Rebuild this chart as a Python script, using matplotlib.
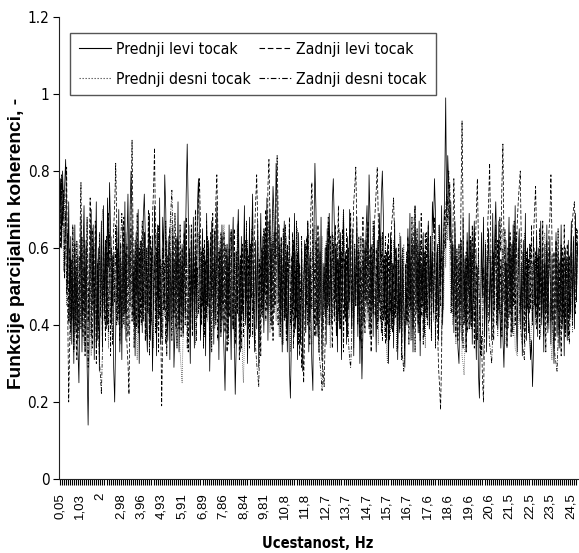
import numpy as np
import matplotlib
matplotlib.use("Agg")
import matplotlib.pyplot as plt
from matplotlib import font_manager
from matplotlib.font_manager import FontProperties
from matplotlib.ticker import FixedLocator, MultipleLocator

# ---------------- data (coherence values in hundredths) ----------------
x_labels = ["0,05", "1,03", "2", "2,98", "3,96", "4,93", "5,91", "6,89", "7,86",
            "8,84", "9,81", "10,8", "11,8", "12,7", "13,7", "14,7", "15,7", "16,7",
            "17,6", "18,6", "19,6", "20,6", "21,5", "22,5", "23,5", "24,5"]
y_ticks = [0, 0.2, 0.4, 0.6, 0.8, 1.0, 1.2]
y_tick_labels = ["0", "0.2", "0.4", "0.6", "0.8", "1", "1.2"]
series_names = ["Prednji levi tocak", "Zadnji levi tocak",
                "Prednji desni tocak", "Zadnji desni tocak"]

prednji_levi = [
    65, 78, 60, 80, 71, 76, 83, 69, 50, 72, 41, 63, 35, 58, 30, 66, 38, 55, 34, 25,
    47, 68, 33, 59, 71, 42, 62, 30, 14, 37, 58, 70, 45, 66, 31, 53, 72, 36, 60, 28,
    52, 67, 35, 71, 44, 62, 39, 73, 55, 77, 64, 40, 58, 29, 20, 38, 65, 46, 70, 33,
    57, 31, 66, 43, 72, 36, 61, 74, 50, 69, 80, 67, 42, 59, 32, 64, 40, 70, 30, 54,
    62, 38, 68, 74, 63, 41, 33, 57, 69, 36, 60, 28, 46, 71, 53, 32, 66, 42, 73, 35,
    47, 68, 58, 79, 70, 44, 36, 63, 31, 59, 41, 66, 29, 38, 62, 48, 72, 33, 57, 40,
    61, 37, 67, 55, 74, 87, 70, 45, 30, 62, 39, 68, 34, 58, 43, 71, 78, 63, 36, 52,
    65, 39, 57, 32, 69, 45, 62, 28, 43, 67, 58, 35, 64, 41, 72, 53, 31, 60, 38, 66,
    42, 33, 23, 40, 61, 37, 66, 47, 31, 58, 68, 39, 22, 35, 60, 70, 51, 33, 63, 43,
    55, 71, 40, 64, 30, 47, 68, 37, 60, 74, 44, 33, 62, 39, 67, 29, 53, 69, 45, 63,
    38, 65, 51, 73, 36, 58, 70, 42, 63, 76, 68, 57, 82, 72, 46, 66, 40, 62, 33, 56,
    67, 42, 59, 33, 52, 29, 21, 37, 61, 45, 69, 39, 57, 31, 64, 43, 35, 60, 28, 50,
    62, 38, 54, 67, 33, 58, 41, 30, 23, 64, 82, 70, 49, 37, 63, 42, 68, 31, 56, 44,
    60, 35, 65, 45, 69, 56, 40, 72, 78, 66, 46, 61, 33, 57, 39, 64, 31, 52, 70, 42,
    59, 35, 63, 44, 70, 53, 39, 65, 32, 60, 45, 68, 37, 56, 30, 43, 26, 38, 62, 47,
    64, 71, 55, 79, 67, 43, 60, 37, 66, 49, 33, 62, 41, 69, 57, 73, 80, 68, 42, 58,
    36, 61, 30, 48, 64, 39, 56, 34, 67, 44, 60, 31, 52, 38, 63, 35, 57, 43, 29, 55,
    40, 65, 46, 69, 36, 60, 33, 54, 71, 43, 62, 38, 67, 32, 56, 47, 64, 37, 59, 44,
    58, 67, 39, 63, 48, 72, 64, 78, 69, 44, 61, 37, 66, 50, 71, 40, 63, 75, 99, 68,
    84, 76, 62, 72, 45, 61, 38, 67, 53, 41, 34, 30, 47, 62, 36, 68, 43, 58, 33, 64,
    48, 69, 40, 62, 35, 56, 67, 43, 31, 55, 28, 21, 39, 64, 47, 68, 37, 60, 33, 54,
    65, 41, 58, 36, 69, 47, 63, 72, 60, 39, 67, 44, 34, 57, 37, 29, 43, 62, 35, 56,
    68, 45, 61, 38, 66, 50, 71, 42, 33, 59, 65, 40, 56, 32, 62, 44, 69, 36, 60, 43,
    39, 31, 36, 24, 34, 57, 42, 64, 37, 60, 46, 67, 40, 56, 33, 61, 43, 66, 38, 55,
    63, 35, 58, 42, 30, 47, 64, 37, 59, 34, 45, 66, 39, 57, 32, 60, 44, 36, 62, 41,
    55, 67, 42, 63, 39, 69, 47, 61,
]

zadnji_levi = [
    73, 60, 79, 66, 75, 52, 70, 81, 44, 20, 35, 57, 41, 66, 37, 61, 47, 31, 58, 40,
    63, 77, 48, 37, 62, 32, 51, 68, 41, 57, 73, 47, 34, 60, 43, 67, 30, 56, 39, 64,
    42, 58, 34, 66, 47, 36, 63, 40, 69, 55, 32, 60, 45, 65, 71, 82, 67, 41, 59, 36,
    61, 39, 53, 68, 43, 59, 35, 30, 22, 46, 70, 88, 64, 40, 62, 48, 69, 38, 60, 42,
    58, 67, 41, 64, 36, 60, 45, 70, 38, 63, 48, 68, 75, 86, 63, 40, 57, 33, 61, 43,
    19, 37, 60, 44, 67, 32, 58, 41, 65, 47, 36, 63, 42, 69, 55, 34, 62, 39, 66, 45,
    60, 38, 64, 43, 68, 48, 33, 59, 42, 66, 37, 63, 46, 70, 50, 65, 72, 78, 66, 40,
    57, 34, 62, 40, 67, 45, 60, 36, 64, 47, 69, 42, 58, 72, 79, 65, 43, 59, 37, 63,
    45, 64, 38, 60, 33, 56, 42, 62, 64, 49, 39, 65, 35, 59, 43, 67, 31, 58, 41, 61,
    37, 63, 44, 67, 40, 58, 34, 61, 47, 69, 43, 64, 72, 79, 66, 39, 57, 32, 60, 42,
    65, 48, 70, 44, 76, 83, 68, 40, 61, 36, 64, 45, 73, 84, 69, 49, 41, 63, 35, 60,
    42, 66, 38, 61, 49, 68, 46, 39, 64, 34, 59, 41, 67, 37, 60, 32, 45, 29, 37, 25,
    39, 61, 45, 67, 58, 42, 70, 77, 63, 47, 37, 62, 40, 66, 33, 59, 43, 31, 28, 24,
    36, 60, 44, 68, 40, 63, 47, 34, 61, 42, 66, 38, 58, 71, 45, 62, 39, 65, 33, 57,
    41, 65, 37, 60, 46, 69, 43, 61, 72, 76, 81, 66, 44, 59, 36, 63, 40, 68, 46, 38,
    62, 45, 67, 39, 60, 33, 57, 43, 65, 70, 75, 81, 68, 46, 61, 38, 64, 41, 58, 35,
    59, 40, 64, 36, 57, 66, 69, 73, 62, 42, 58, 34, 61, 39, 55, 31, 60, 44, 37, 56,
    41, 63, 35, 58, 44, 68, 39, 61, 33, 56, 65, 40, 59, 36, 69, 45, 60, 38, 64, 42,
    57, 66, 40, 61, 36, 59, 44, 68, 34, 56, 39, 29, 24, 18, 32, 55, 63, 70, 60, 74,
    71, 80, 67, 60, 43, 64, 78, 65, 42, 58, 36, 61, 45, 73, 93, 69, 40, 57, 33, 62,
    45, 39, 63, 41, 66, 58, 34, 60, 69, 78, 62, 43, 32, 37, 26, 20, 38, 61, 42, 65,
    72, 82, 64, 42, 60, 36, 57, 66, 40, 62, 44, 68, 59, 76, 87, 63, 39, 56, 34, 60,
    42, 64, 37, 61, 45, 67, 40, 58, 66, 72, 76, 80, 62, 43, 59, 35, 63, 41, 57, 38,
    61, 44, 66, 40, 63, 70, 76, 62, 42, 58, 36, 60, 43, 67, 39, 56, 33, 59, 41, 64,
    68, 79, 63, 41, 59, 36, 62, 44, 65, 39, 57, 32, 60, 42, 66, 38, 55, 61, 37, 58,
    43, 62, 67, 70, 72, 63, 46, 65,
]

prednji_desni = [
    68, 76, 62, 72, 54, 74, 65, 45, 60, 40, 57, 36, 53, 42, 65, 34, 55, 43, 61, 38,
    53, 64, 41, 59, 35, 56, 43, 67, 38, 58, 46, 32, 55, 62, 40, 63, 37, 57, 44, 60,
    42, 62, 70, 65, 48, 39, 60, 44, 34, 57, 41, 63, 49, 37, 59, 43, 66, 47, 40, 58,
    35, 56, 42, 61, 39, 64, 47, 58, 38, 60, 44, 66, 41, 55, 36, 43, 31, 40, 59, 48,
    61, 41, 65, 45, 57, 37, 60, 43, 68, 49, 40, 62, 34, 58, 44, 64, 39, 59, 47, 42,
    56, 36, 60, 42, 65, 48, 40, 61, 44, 69, 58, 38, 55, 43, 63, 35, 57, 41, 33, 29,
    25, 38, 58, 43, 63, 55, 41, 66, 45, 59, 39, 61, 48, 35, 57, 42, 64, 44, 60, 40,
    55, 34, 59, 45, 65, 41, 61, 37, 57, 43, 63, 47, 39, 60, 68, 50, 42, 62, 38, 58,
    62, 66, 51, 43, 61, 38, 58, 45, 64, 40, 55, 34, 59, 44, 66, 41, 56, 36, 60, 31,
    25, 36, 54, 42, 62, 39, 59, 47, 65, 43, 57, 37, 61, 41, 64, 49, 34, 58, 44, 60,
    40, 61, 48, 66, 43, 59, 38, 63, 50, 70, 45, 60, 41, 65, 51, 37, 61, 44, 55, 35,
    58, 42, 63, 39, 57, 45, 33, 55, 41, 61, 37, 59, 44, 65, 40, 56, 35, 60, 47, 42,
    61, 38, 58, 44, 64, 41, 55, 35, 59, 43, 66, 48, 40, 60, 36, 57, 45, 63, 39, 56,
    43, 62, 40, 59, 48, 34, 57, 42, 63, 45, 58, 38, 61, 41, 65, 50, 60, 66, 70, 59,
    44, 57, 37, 60, 42, 63, 39, 55, 34, 58, 45, 65, 41, 59, 36, 56, 43, 62, 40, 54,
    60, 41, 64, 47, 57, 38, 61, 43, 66, 49, 40, 59, 35, 56, 44, 63, 42, 58, 37, 45,
    34, 30, 41, 56, 37, 59, 44, 62, 40, 54, 33, 57, 43, 64, 39, 58, 47, 61, 38, 55,
    59, 40, 62, 44, 56, 36, 60, 42, 65, 48, 41, 61, 38, 58, 45, 63, 39, 57, 34, 55,
    43, 60, 39, 57, 47, 64, 41, 61, 37, 59, 45, 66, 42, 56, 35, 58, 44, 63, 55, 69,
    62, 71, 58, 43, 64, 40, 60, 47, 35, 56, 42, 61, 38, 54, 32, 30, 27, 36, 55, 43,
    58, 39, 61, 44, 65, 41, 56, 36, 60, 48, 40, 34, 45, 59, 38, 31, 43, 62, 55, 42,
    64, 56, 60, 41, 63, 45, 57, 66, 44, 37, 59, 47, 40, 61, 65, 42, 35, 56, 43, 60,
    55, 63, 42, 58, 37, 45, 34, 33, 32, 41, 57, 62, 44, 59, 39, 64, 47, 40, 60, 43,
    38, 33, 41, 56, 44, 60, 40, 63, 48, 42, 58, 37, 55, 61, 62, 64, 57, 43, 59, 39,
    46, 35, 31, 40, 58, 43, 61, 38, 56, 45, 34, 59, 41, 54, 39, 60, 44, 57, 36, 55,
    42, 58, 38, 61, 45, 64, 49, 60,
]

zadnji_desni = [
    61, 70, 77, 66, 73, 53, 69, 48, 64, 41, 60, 38, 57, 44, 33, 54, 40, 62, 36, 43,
    58, 39, 63, 43, 55, 34, 60, 41, 29, 46, 59, 37, 65, 47, 42, 61, 35, 56, 40, 31,
    27, 22, 33, 54, 41, 62, 44, 59, 38, 64, 56, 42, 35, 58, 46, 66, 40, 60, 43, 55,
    63, 69, 59, 40, 56, 43, 61, 37, 58, 45, 65, 41, 54, 34, 57, 39, 60, 46, 42, 62,
    40, 59, 45, 64, 36, 56, 43, 61, 32, 55, 41, 63, 44, 58, 38, 60, 47, 66, 42, 57,
    37, 60, 44, 56, 35, 62, 42, 58, 65, 70, 75, 61, 43, 57, 39, 63, 46, 41, 59, 37,
    56, 42, 62, 40, 58, 34, 46, 60, 38, 64, 44, 57, 41, 61, 36, 55, 43, 63, 39, 59,
    45, 60, 37, 57, 42, 63, 47, 39, 61, 33, 56, 43, 65, 40, 58, 36, 59, 45, 64, 41,
    55, 40, 61, 44, 58, 35, 60, 42, 65, 46, 39, 59, 37, 56, 43, 62, 41, 57, 34, 54,
    42, 58, 62, 46, 60, 39, 57, 43, 62, 37, 55, 41, 34, 30, 27, 24, 36, 56, 43, 59,
    44, 64, 41, 60, 48, 67, 45, 59, 39, 62, 43, 57, 64, 46, 40, 61, 37, 58, 44, 65,
    41, 56, 36, 60, 45, 65, 40, 58, 43, 62, 38, 54, 42, 59, 35, 56, 44, 63, 39, 53,
    58, 43, 63, 40, 55, 35, 59, 44, 65, 41, 56, 37, 60, 42, 33, 30, 27, 23, 34, 55,
    42, 61, 46, 66, 40, 58, 45, 64, 48, 41, 60, 37, 57, 43, 62, 39, 59, 46, 65, 44,
    58, 39, 46, 35, 31, 29, 37, 56, 42, 61, 45, 59, 40, 63, 43, 55, 34, 57, 41, 60,
    46, 65, 43, 58, 37, 61, 45, 67, 49, 42, 60, 39, 62, 47, 41, 59, 36, 57, 44, 63,
    40, 55, 34, 58, 43, 62, 38, 56, 42, 60, 45, 37, 57, 41, 53, 33, 31, 28, 36, 54,
    59, 41, 61, 45, 56, 63, 58, 67, 71, 60, 44, 57, 38, 62, 42, 55, 35, 59, 43, 64,
    40, 58, 44, 63, 38, 56, 43, 61, 47, 41, 60, 36, 57, 45, 65, 42, 58, 62, 70, 74,
    66, 72, 77, 64, 48, 61, 42, 58, 37, 60, 45, 56, 40, 62, 43, 34, 54, 41, 59, 38,
    57, 43, 62, 39, 59, 46, 65, 41, 56, 36, 60, 44, 40, 32, 37, 55, 42, 61, 45, 58,
    40, 35, 33, 30, 38, 59, 44, 64, 48, 41, 62, 43, 57, 37, 60, 46, 65, 42, 56, 39,
    61, 43, 58, 38, 62, 45, 56, 64, 41, 60, 46, 40, 37, 35, 33, 31, 39, 59, 44, 57,
    43, 61, 48, 41, 63, 45, 59, 39, 58, 44, 65, 47, 42, 60, 37, 56, 43, 62, 40, 53,
    59, 41, 47, 38, 35, 32, 30, 28, 36, 56, 43, 61, 40, 58, 45, 37, 57, 42, 55, 35,
    44, 59, 40, 62, 48, 43, 65, 58,
]

lengths = [len(s) for s in (prednji_levi, zadnji_levi, prednji_desni, zadnji_desni)]
assert len(set(lengths)) == 1, f"series lengths differ: {lengths}"

# ---------------- fonts ----------------
available = {f.name for f in font_manager.fontManager.ttflist}
cond_file = font_manager.findfont(FontProperties(family="DejaVu Sans", stretch="condensed"))
if "Condensed" in cond_file:
    hfont = dict(family=["DejaVu Sans"], stretch="condensed")
    scale = 1.0
elif "Liberation Sans Narrow" in available:
    hfont = dict(family=["Liberation Sans Narrow", "DejaVu Sans"])
    scale = 1.0
else:
    hfont = dict(family=["Liberation Sans", "DejaVu Sans"])
    scale = 0.85
plt.rcParams["font.family"] = hfont["family"]
hprops = {k: v for k, v in hfont.items() if k != "family"}

# ---------------- figure ----------------
W, H = 579, 553
fig = plt.figure(figsize=(W / 100, H / 100), dpi=100)
ax = fig.add_axes([59 / W, (H - 479) / H, 519 / W, 462 / H])

series = [np.array(s, dtype=float) / 100.0 for s in
          (prednji_levi, zadnji_levi, prednji_desni, zadnji_desni)]
n = len(series[0])
x = np.arange(n)

lw = 0.55
styles = [
    dict(linestyle="-", linewidth=lw, color="black"),
    dict(linestyle=(0, (5, 2.5)), linewidth=lw, color="black"),
    dict(linestyle=(0, (1.2, 1.5)), linewidth=lw, color="#555555"),
    dict(linestyle=(0, (5, 2, 1.2, 2)), linewidth=lw, color="black"),
]
lines = {}
for i in [2, 3, 1, 0]:
    (ln,) = ax.plot(x, series[i], label=series_names[i], **styles[i])
    lines[i] = ln

ax.set_xlim(-0.5, n - 0.5)
ax.set_ylim(0, 1.2)

ax.set_yticks(y_ticks)
ax.set_yticklabels(y_tick_labels, fontsize=11 * scale, **hprops)
label_pos = [20 * k for k in range(len(x_labels))]
ax.xaxis.set_major_locator(FixedLocator(label_pos))
ax.set_xticklabels(x_labels, rotation=90, fontsize=9.5,
                   family=["Liberation Sans", "DejaVu Sans"])
ax.xaxis.set_minor_locator(MultipleLocator(2))
ax.tick_params(axis="x", which="major", length=4, width=0.8, direction="out", pad=6)
ax.tick_params(axis="x", which="minor", length=4, width=0.8, direction="out")
ax.tick_params(axis="y", which="major", length=4, width=0.8, direction="out", pad=3)

for side in ("top", "right"):
    ax.spines[side].set_visible(False)
for side in ("left", "bottom"):
    ax.spines[side].set_linewidth(0.8)
    ax.spines[side].set_color("#222222")

fig.text(318 / W, 1 - 544 / H, "Ucestanost, Hz", ha="center", va="center",
         fontsize=10.5 * scale, fontweight="bold", **hprops)
fig.text(17 / W, 1 - 243 / H, "Funkcije parcijalnih koherenci, -", rotation=90,
         ha="center", va="center", fontsize=13.8, fontweight="bold",
         family=["Liberation Sans", "DejaVu Sans"])

handles = [lines[0], lines[2], lines[1], lines[3]]
leg = ax.legend(handles, [h.get_label() for h in handles], ncol=2,
                loc="upper left", bbox_to_anchor=(0.021, 0.965), borderaxespad=0,
                prop=FontProperties(size=11.3 * scale, **hfont),
                frameon=True, fancybox=False, framealpha=1,
                edgecolor="#555555", handlelength=2.1, handletextpad=0.3,
                columnspacing=0.5, labelspacing=0.95, borderpad=0.55)
leg.get_frame().set_linewidth(1.0)
for h in leg.legend_handles:
    h.set_linewidth(0.8)

fig.savefig("out.png", dpi=100)
